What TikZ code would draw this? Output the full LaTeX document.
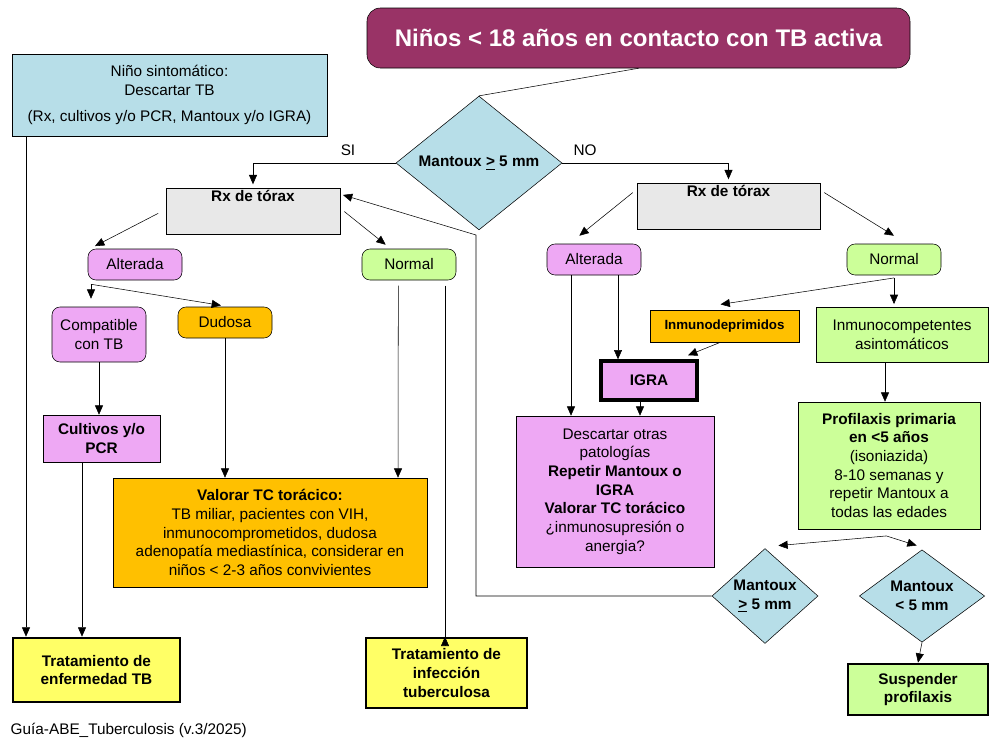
\documentclass[tikz,border=0pt]{standalone}
\usepackage{fontspec}
\setmainfont{Liberation Sans}
\usetikzlibrary{arrows.meta,shapes.geometric}
\definecolor{tit}{HTML}{993366}
\definecolor{cian}{HTML}{B7DEE8}
\definecolor{gris}{HTML}{E8E8E8}
\definecolor{rosa}{HTML}{EEA8F4}
\definecolor{verde}{HTML}{CCFF99}
\definecolor{naranja}{HTML}{FFC000}
\definecolor{amarillo}{HTML}{FFFF66}
\tikzset{
  caja/.style={draw,inner sep=1pt,align=center,font=\fontsize{11.5}{14}\selectfont},
  redonda/.style={caja,rounded corners=6pt},
  gruesa/.style={caja,line width=2pt,font=\fontsize{11.5}{14}\selectfont\bfseries},
  rombo/.style={diamond,draw,fill=cian,inner sep=0pt,align=center,font=\fontsize{11.5}{14}\selectfont\bfseries},
  flecha/.style={-{Triangle[length=7pt,width=6pt]}},
}
\newcommand{\caja}[6]{% name, x1, y1, x2, y2, style
  \node[#6,minimum width={(#4-#2)*0.75pt},minimum height={(#5-#3)*0.75pt}] (#1) at ({(#2+#4)/2},{(#3+#5)/2})}
\begin{document}
\begin{tikzpicture}[x=0.75pt,y=-0.75pt]
\useasboundingbox (0,0) rectangle (1000,750);
% cajas
\caja{tit}{367}{8}{910}{68}{caja,rounded corners=10pt,fill=tit,text=white,font=\fontsize{18}{22}\selectfont\bfseries} {Niños < 18 años en contacto con TB activa};
\caja{sint}{12}{54}{327}{136}{caja,fill=cian} {Niño sintomático:\\Descartar TB\\[6pt](Rx, cultivos y/o PCR, Mantoux y/o IGRA)};
\node[rombo,minimum width=124.5pt,minimum height=67.5pt] (mtx) at (479,163) {Mantoux \underline{>} 5 mm};
\node at (348,150) {\fontsize{11.5}{14}\selectfont SI};
\node at (585,150) {\fontsize{11.5}{14}\selectfont NO};
\caja{rxl}{166}{190}{340}{233}{caja,fill=gris,font=\fontsize{11.5}{14}\selectfont\bfseries} {Rx de tórax\\[10pt]};
\caja{rxr}{637}{185}{820}{228}{caja,fill=gris,font=\fontsize{11.5}{14}\selectfont\bfseries} {Rx de tórax\\[10pt]};
\caja{altl}{88}{249}{182}{280}{redonda,fill=rosa} {Alterada};
\caja{norl}{362}{249}{456}{280}{redonda,fill=verde} {Normal};
\caja{comp}{52}{307}{146}{362}{redonda,fill=rosa} {Compatible\\con TB};
\caja{dud}{178}{307}{272}{338}{redonda,fill=naranja} {Dudosa};
\caja{cult}{43}{415}{160}{462}{caja,fill=rosa,font=\fontsize{11.5}{14}\selectfont\bfseries} {Cultivos y/o\\PCR};
\caja{tc}{113}{478}{427}{587}{caja,fill=naranja} {\textbf{Valorar TC torácico:}\\TB miliar, pacientes con VIH,\\inmunocomprometidos, dudosa\\adenopatía mediastínica, considerar en\\niños < 2-3 años convivientes};
\caja{tenf}{13}{638}{180}{702}{gruesa,fill=amarillo} {Tratamiento de\\enfermedad TB};
\caja{tinf}{366}{638}{527}{708}{gruesa,fill=amarillo} {Tratamiento de\\infección\\tuberculosa};
\caja{altr}{547}{244}{641}{275}{redonda,fill=rosa} {Alterada};
\caja{norr}{847}{244}{941}{275}{redonda,fill=verde} {Normal};
\caja{idep}{650}{310}{799}{342}{caja,fill=naranja,font=\fontsize{10}{12}\selectfont\bfseries} {Inmunodeprimidos};
\caja{icomp}{816}{307}{988}{362}{caja,fill=verde} {Inmunocompetentes\\asintomáticos};
\caja{igra}{601}{361}{697}{400}{gruesa,line width=2.5pt,fill=rosa} {IGRA};
\caja{desc}{516}{416}{714}{567}{caja,fill=rosa} {Descartar otras\\patologías\\\textbf{Repetir Mantoux o}\\\textbf{IGRA}\\\textbf{Valorar TC torácico}\\¿inmunosupresión o\\anergia?};
\caja{prof}{798}{402}{980}{529}{caja,fill=verde} {\textbf{Profilaxis primaria}\\\textbf{en <5 años}\\(isoniazida)\\8-10 semanas y\\repetir Mantoux a\\todas las edades};
\node[rombo,minimum width=79.5pt,minimum height=59pt] (mge) at (765,596) {Mantoux\\\underline{>} 5 mm};
\node[rombo,minimum width=94pt,minimum height=59pt] (mlt) at (922,596) {Mantoux\\< 5 mm};
\caja{susp}{848}{664}{988}{715}{gruesa,fill=verde} {Suspender\\profilaxis};
\node[anchor=west,font=\fontsize{11.5}{14}\selectfont] at (6,730) {Guía-ABE\_Tuberculosis (v.3/2025)};
% conectores
\draw (tit.south) -- (mtx.north);
\draw[flecha] (mtx.west) -| ([yshift=3pt]rxl.north);
\draw[flecha] (mtx.east) -| ([yshift=3pt]rxr.north);
\draw[flecha,shorten <=3pt] ([xshift=-3pt]rxl.west) -- ([xshift=-30pt,yshift=2pt]altl.north);
\draw[flecha] ([xshift=3pt]rxl.east) -- ([xshift=18pt,yshift=3pt]norl.north west);
\draw[flecha] ([xshift=-33pt,yshift=-3pt]altl.south) -- ([xshift=-6pt,yshift=6pt]comp.north);
\draw[flecha] ([xshift=-33pt,yshift=-3pt]altl.south) -- ([xshift=-3pt,yshift=1pt]dud.north);
\draw[flecha] (comp.south) -- (cult.north -| comp.south);
\draw[flecha] (dud.south) -- (tc.north -| dud.south);
\draw[flecha] ([xshift=-8pt,yshift=-4pt]norl.south) -- (tc.north -| {398,0});
\draw ([xshift=27pt,yshift=-4pt]norl.south) -- (tinf.north -| {445,0});
\draw[flecha] ([yshift=-2pt]tinf.north -| {445,0}) -- (tinf.north -| {445,0});
\draw[flecha] (sint.south -| {26,0}) -- (tenf.north -| {26,0});
\draw[flecha] (cult.south -| {82,0}) -- (tenf.north -| {82,0});
\draw[flecha] (mge.west) -- (476,596) -- (476,235) -- ([xshift=2pt,yshift=-5pt]rxl.north east);
\draw[flecha] ([xshift=-3pt,yshift=-7pt]rxr.north west) -- ([xshift=-11pt,yshift=6pt]altr.north);
\draw[flecha] ([xshift=3pt,yshift=-7pt]rxr.north east) -- ([yshift=6pt]norr.north);
\draw[flecha] (altr.south -| {571,0}) -- (desc.north -| {571,0});
\draw[flecha] (altr.south -| {618,0}) -- (igra.north -| {618,0});
\draw[flecha] ([yshift=-2pt]norr.south) -- ([yshift=2pt]icomp.north -| norr.south);
\draw[flecha] ([yshift=-2pt]norr.south) -- ([xshift=-3pt,yshift=4pt]idep.north);
\draw[flecha] ([xshift=-3pt]idep.south) -- ([xshift=-8pt,yshift=3pt]igra.north east);
\draw[flecha] (igra.south -| {640,0}) -- (desc.north -| {640,0});
\draw[flecha] (icomp.south -| {885,0}) -- (prof.north -| {885,0});
\draw[flecha] ([xshift=-2pt,yshift=-5pt]prof.south) -- ([xshift=10pt,yshift=2pt]mge.north);
\draw[flecha] ([xshift=-2pt,yshift=-5pt]prof.south) -- ([xshift=-4pt,yshift=3pt]mlt.north);
\draw[flecha] (mlt.south) -- (susp.north);
\end{tikzpicture}
\end{document}
